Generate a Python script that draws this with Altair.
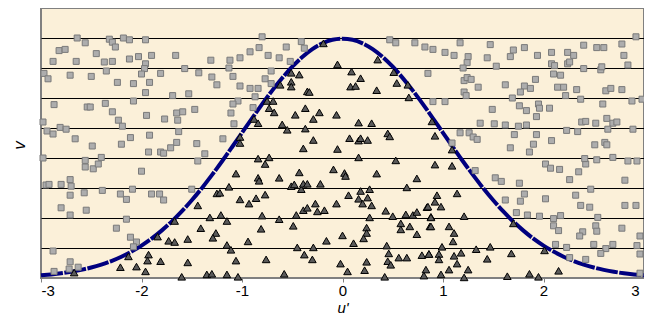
import altair as alt
import pandas as pd

# Curve (density at 0.1 steps)
curve_u = [round(-3 + 0.1 * i, 1) for i in range(61)]
curve_half = [0.0044, 0.0060, 0.0079, 0.0104, 0.0136, 0.0175, 0.0224, 0.0283, 0.0355, 0.0440,
              0.0540, 0.0656, 0.0790, 0.0940, 0.1109, 0.1295, 0.1497, 0.1714, 0.1942, 0.2179,
              0.2420, 0.2661, 0.2897, 0.3123, 0.3332, 0.3521, 0.3683, 0.3814, 0.3910, 0.3970,
              0.3989]
curve_v = curve_half + curve_half[-2::-1]

# Rejected points (gray squares)
sq_u = [-2.64, -2.56, -2.32, -2.29, -2.26, -2.18, -2.12, -1.96,
        -2.82, -2.76, -2.88, -2.65, -2.45, -2.37, -2.29, -2.12, -2.03, -1.96, -1.90, -1.66, -1.31,
        -1.97, -2.00, -1.81, -1.57, -1.43, -1.30, -1.25,
        -2.97, -2.93, -2.71, -2.50, -2.35, -2.24, -2.08, -1.92, -1.96, -2.08, -1.69, -1.53,
        -2.87, -2.54, -2.51, -2.36, -2.29, -1.95, -1.77, -1.65, -1.59, -1.47, -1.64,
        -2.98, -2.94, -2.88, -2.81, -2.75, -2.23, -2.19, -2.66, -2.49, -2.20, -2.11, -1.92, -1.63, -1.65, -1.71, -1.45,
        -1.93, -1.81, -1.78, -1.37,
        -0.80, -0.41, -0.38, -0.83, -0.92, -1.02, -1.12, -1.13, -1.09, -0.74, -0.63, -0.56, -0.52, -0.71, -0.77,
        -0.71, -0.84, -0.92, -1.02, -0.87, -1.04, -1.09, -0.89, -1.11, -1.08, -1.19,
        0.47, 0.53, 0.72, 0.82, 0.90, 0.85, 0.90,
        1.17, 1.47, 1.02, 1.11, 1.25, 1.24, 1.44, 1.20, 1.53, 1.67, 1.70, 1.81, 1.94, 2.08, 2.24, 2.30, 2.40,
        2.53, 2.60, 2.78, 2.92, 2.80, 2.84, 2.08, 2.11, 2.24, 2.26, 2.40, 2.57, 2.58,
        1.21, 1.24, 1.28, 1.35, 1.62, 1.92, 2.10, 2.17, 1.81, 1.87, 1.77, 1.69, 2.14, 2.20, 2.33, 2.62, 2.67, 2.78,
        1.21, 1.23, 2.22, 2.37, 2.59, 2.88, 2.98, 1.02, 1.49, 1.76, 1.83, 1.95, 1.96, 2.06, 1.93,
        1.37, 1.51, 1.62, 1.75, 1.83, 2.38, 2.42, 2.52, 2.63, 2.69, 2.73, 2.64, 2.23, 2.34, 2.89,
        1.17, 1.26, 1.30, 1.34, 1.71, 1.93, 2.08, 1.67, 1.90, 1.86, 2.51, 2.61, 2.63, 1.09,
        -2.98, -2.56, -2.56, -2.48, -2.43, -2.40, -2.00, -1.44,
        -2.95, -2.92, -2.80, -2.71, -2.70, -2.71, -2.57, -2.39, -2.21, -2.15, -2.09, -1.90, -1.82, -1.78, -1.50,
        -2.80, -2.71, -2.55, -2.15, -2.25, -2.11, -2.05, -2.08, -2.88, -2.71, -2.72, -2.63, -2.87,
        1.32, 1.52, 1.58, 1.76, 2.02, 2.07, 2.16, 2.35, 2.42, 2.41, 2.53, 2.69, 2.84, 2.93, 2.26, 2.81,
        1.62, 1.77, 1.81, 2.02, 2.32, 2.47, 2.37, 2.46, 2.81, 2.92,
        1.73, 1.84, 1.96, 2.10, 2.17, 2.10, 2.15, 2.54, 2.52, 2.53, 2.39, 2.36, 2.78, 2.96,
        2.12, 2.23, 2.50, 2.62, 2.57, 2.69, 2.93, 2.96, 2.26, 2.42, 2.96]
sq_v = [0.400, 0.392, 0.398, 0.393, 0.385, 0.400, 0.397, 0.397,
        0.379, 0.381, 0.361, 0.361, 0.374, 0.360, 0.361, 0.365, 0.369, 0.357, 0.371, 0.371, 0.363,
        0.349, 0.340, 0.341, 0.349, 0.342, 0.335, 0.322,
        0.341, 0.332, 0.338, 0.336, 0.345, 0.326, 0.324, 0.326, 0.309, 0.295, 0.304, 0.307,
        0.289, 0.285, 0.285, 0.291, 0.277, 0.271, 0.265, 0.275, 0.277, 0.281, 0.263,
        0.260, 0.245, 0.240, 0.251, 0.248, 0.263, 0.253, 0.232, 0.220, 0.223, 0.234, 0.238, 0.244, 0.226, 0.217, 0.224,
        0.210, 0.210, 0.208, 0.207,
        0.402, 0.394, 0.383, 0.384, 0.377, 0.367, 0.363, 0.350, 0.336, 0.371, 0.367, 0.385, 0.361, 0.345, 0.332,
        0.324, 0.316, 0.316, 0.320, 0.302, 0.295, 0.290, 0.284, 0.275, 0.257, 0.232,
        0.397, 0.392, 0.392, 0.385, 0.381, 0.341, 0.294,
        0.392, 0.389, 0.376, 0.371, 0.369, 0.359, 0.367, 0.350, 0.353, 0.369, 0.380, 0.384, 0.371, 0.376, 0.376, 0.371, 0.388,
        0.384, 0.384, 0.390, 0.402, 0.371, 0.355, 0.357, 0.354, 0.357, 0.360, 0.349, 0.347, 0.352,
        0.329, 0.334, 0.331, 0.318, 0.322, 0.331, 0.340, 0.338, 0.320, 0.316, 0.310, 0.300, 0.318, 0.318, 0.314, 0.312, 0.316, 0.314,
        0.310, 0.304, 0.304, 0.298, 0.290, 0.295, 0.298, 0.294, 0.281, 0.287, 0.279, 0.290, 0.283, 0.283, 0.269,
        0.258, 0.257, 0.255, 0.253, 0.255, 0.260, 0.261, 0.258, 0.266, 0.258, 0.260, 0.248, 0.246, 0.244, 0.248,
        0.242, 0.242, 0.235, 0.231, 0.239, 0.239, 0.229, 0.217, 0.223, 0.210, 0.222, 0.226, 0.222, 0.225,
        0.200, 0.196, 0.185, 0.182, 0.190, 0.201, 0.178, 0.195,
        0.155, 0.156, 0.156, 0.164, 0.153, 0.138, 0.142, 0.146, 0.140, 0.131, 0.148, 0.140, 0.140, 0.130, 0.148,
        0.117, 0.105, 0.113, 0.098, 0.083, 0.068, 0.060, 0.052, 0.045, 0.027, 0.015, 0.018, 0.011,
        0.179, 0.167, 0.161, 0.158, 0.190, 0.183, 0.181, 0.177, 0.190, 0.199, 0.197, 0.201, 0.195, 0.195, 0.164, 0.163,
        0.130, 0.128, 0.140, 0.132, 0.138, 0.148, 0.121, 0.118, 0.121, 0.121,
        0.109, 0.105, 0.103, 0.099, 0.104, 0.087, 0.079, 0.101, 0.087, 0.078, 0.077, 0.070, 0.083, 0.070,
        0.056, 0.051, 0.056, 0.049, 0.041, 0.056, 0.054, 0.040, 0.034, 0.031, 0.008]

# Accepted points (dark triangles)
tri_u = [-0.19, -0.05, 0.35, 0.09, 0.18, 0.51, 0.54, 0.65, 0.66, -0.51, -0.43, -0.51, -0.51, -0.62,
         -0.35, -0.33, 0.08, 0.13, 0.34, -0.75, -0.69, -0.73, -0.68, -0.37, -0.47, -0.23, -0.29, -0.06,
         -0.88, -0.84, -0.60, -0.55, -0.37, 0.16, 0.29, 0.89, -1.02, -1.02, -0.29, 0.07, 0.16, 0.18, 0.25,
         0.45, 0.47, -0.39, -0.05, 0.92, 1.09,
         -2.67, -2.21, -2.05, -1.96, -2.13, -1.93, -1.94, -1.81, -1.84, -1.73, -1.67, -1.67, -1.54, -1.54,
         -1.60, -1.44, -1.32, -1.41, -1.26, -1.29, -1.35, -1.30, -1.25,
         -0.84, -0.73, -0.77, 0.16, 0.53, -1.06, -0.84, -0.83, -0.63, -0.43, -0.09, 0.02, 0.03, 0.34, 0.74,
         -1.13, -1.22, -0.51, -0.48, -0.41, -0.39, -0.35, -0.22, 0.18, 0.27, 0.64,
         -1.02, -0.93, -0.86, -0.77, -0.39, -0.35, -0.27, -0.25, -0.18, -0.06, 0.06, 0.16, 0.20, 0.25, 0.29,
         0.43, 0.50, 0.63, 0.70, 0.74, 0.84, 0.88, -1.21, -1.15, -0.80, -0.81, -0.63, -0.49, -0.46,
         0.27, 0.24, 0.24, 0.21, 0.58, 0.58, 0.67, 0.74, 0.87, 0.00, -0.16, 0.11, -0.94, -1.15, -1.11,
         -0.45, -0.29, -0.38, -0.30, -1.06, -0.76, 0.44, 0.46, 0.56, 0.64, 0.45, 0.48, 0.24, -0.02, 0.05,
         0.22, 0.79, 0.86, 0.83, 0.81, -1.15, -1.04, -0.58, 0.42,
         0.92, 1.09, 0.94, 0.92, 0.98, 0.85, 1.14, 0.88, 1.21, 0.88, 1.06, 1.11, 1.10, 0.99, 0.86, 0.96,
         0.96, 1.11, 1.18, 1.14, 1.33, 1.47, 1.44, 1.68, 1.70, 2.01, 1.06, 1.25, 0.98, 1.21, 1.64, 1.86,
         1.95, 2.15]
tri_v = [0.391, 0.356, 0.364, 0.344, 0.333, 0.343, 0.325, 0.322, 0.301, 0.342, 0.339, 0.327, 0.319, 0.322,
         0.311, 0.310, 0.319, 0.320, 0.313, 0.295, 0.295, 0.283, 0.276, 0.283, 0.272, 0.276, 0.265, 0.272,
         0.265, 0.258, 0.256, 0.247, 0.249, 0.259, 0.258, 0.261, 0.235, 0.225, 0.230, 0.233, 0.229, 0.233, 0.230,
         0.241, 0.236, 0.216, 0.215, 0.237, 0.214,
         0.009, 0.018, 0.019, 0.011, 0.036, 0.039, 0.029, 0.028, 0.069, 0.062, 0.060, 0.095, 0.065, 0.026,
         0.002, 0.121, 0.101, 0.083, 0.075, 0.067, 0.006, 0.007, 0.141,
         0.199, 0.201, 0.190, 0.201, 0.196, 0.174, 0.167, 0.162, 0.167, 0.176, 0.181, 0.175, 0.170, 0.174, 0.166,
         0.152, 0.142, 0.153, 0.156, 0.148, 0.157, 0.157, 0.157, 0.145, 0.148, 0.151,
         0.131, 0.124, 0.133, 0.139, 0.113, 0.117, 0.124, 0.111, 0.113, 0.124, 0.138, 0.132, 0.124, 0.134, 0.121,
         0.112, 0.103, 0.106, 0.105, 0.110, 0.118, 0.102, 0.105, 0.095, 0.104, 0.082, 0.098, 0.087, 0.105,
         0.101, 0.084, 0.075, 0.066, 0.091, 0.081, 0.086, 0.073, 0.086, 0.071, 0.062, 0.058, 0.061, 0.055, 0.047,
         0.051, 0.051, 0.039, 0.031, 0.029, 0.031, 0.054, 0.041, 0.034, 0.034, 0.028, 0.022, 0.027, 0.024, 0.011,
         0.013, 0.038, 0.040, 0.014, 0.004, 0.006, 0.002, 0.007, 0.002,
         0.189, 0.187, 0.138, 0.127, 0.119, 0.119, 0.141, 0.101, 0.103, 0.086, 0.086, 0.075, 0.061, 0.052, 0.040, 0.040,
         0.031, 0.037, 0.042, 0.024, 0.048, 0.052, 0.032, 0.041, 0.091, 0.046, 0.014, 0.014, 0.006, 0.001, 0.003, 0.007,
         0.002, 0.012]

x_ticks = [-3, -2, -1, 0, 1, 2, 3]
grid_vals = [0.05, 0.10, 0.15, 0.20, 0.25, 0.30, 0.35, 0.40]

curve_df = pd.DataFrame({"u": curve_u, "v": curve_v})
sq_df = pd.DataFrame({"u": sq_u, "v": sq_v})
tri_df = pd.DataFrame({"u": tri_u, "v": tri_v})

xs = alt.Scale(domain=[-3, 3], nice=False, zero=False)
ys = alt.Scale(domain=[0, 0.45], nice=False, zero=False)
xaxis = alt.Axis(values=x_ticks, labelExpr="'' + datum.value", grid=False,
                 domainColor="#808080", domainWidth=1, tickColor="#808080", tickSize=4,
                 labelFont="Liberation Sans", labelFontSize=15, labelColor="black", labelPadding=1,
                 labelOffset={"condition": {"test": "datum.value == 3", "value": -5}, "value": 0},
                 titleFont="Liberation Sans", titleFontStyle="italic", titleFontWeight="normal",
                 titleFontSize=15, titleColor="black", titleBaseline="alphabetic", titleY=34.5)
yaxis = alt.Axis(values=grid_vals, labels=False, ticks=False, domain=False, grid=True,
                 gridColor="black", gridWidth=1, gridOpacity=1,
                 titleFont="Liberation Sans", titleFontStyle="italic", titleFontWeight="normal",
                 titleFontSize=17, titleColor="black", titleBaseline="alphabetic",
                 titleX=-17, titleY=137)

X = alt.X("u:Q", scale=xs, axis=xaxis, title="u'")
Y = alt.Y("v:Q", scale=ys, axis=yaxis, title="v")

curve = alt.Chart(curve_df).mark_line(color="#00007f", strokeWidth=4, interpolate="monotone",
                                      strokeDash=[22, 1.5]).encode(x=X, y=Y)
squares = alt.Chart(sq_df).mark_point(shape="square", filled=True, size=36, fill="#adadad",
                                      stroke="#7a7a7a", strokeWidth=1, opacity=1).encode(x=X, y=Y)
tris = alt.Chart(tri_df).mark_point(shape="triangle-up", filled=True, size=58, fill="#5a5a5a",
                                    stroke="black", strokeWidth=1, opacity=1).encode(x=X, y=Y)

chart = alt.layer(curve, squares, tris).properties(
    width=603, height=270,
    autosize=alt.AutoSizeParams(type="none"),
    padding={"left": 33, "top": 0, "right": 0, "bottom": 38},
).configure_view(fill="#fbf0d9", stroke="#808080", strokeWidth=2)

chart.save("out.html", embed_options={"renderer": "svg", "actions": False})
